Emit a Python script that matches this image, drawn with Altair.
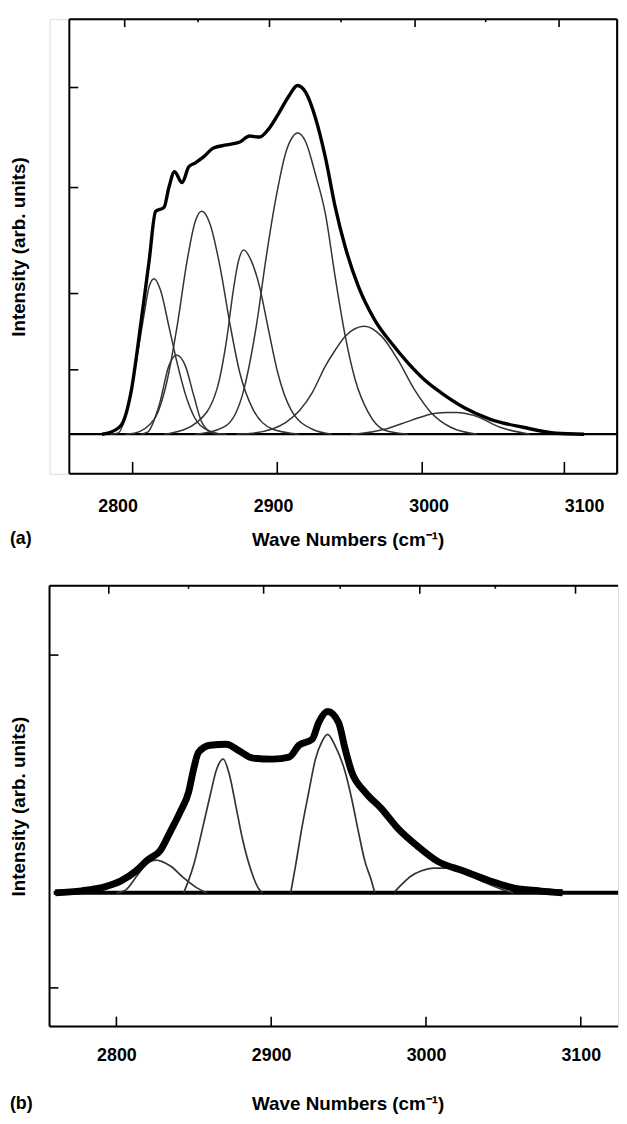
import altair as alt
import pandas as pd

FONT = "Liberation Sans"

# ---------------- panel (a) values ----------------
a_env_x = [2790.0, 2793.8, 2802.3, 2808.6, 2815.0, 2820.3, 2824.5, 2829.9, 2833.0, 2836.6,
           2841.5, 2845.8, 2850.0, 2855.3, 2861.7, 2870.1, 2878.6, 2884.9, 2891.3, 2897.6,
           2904.0, 2910.4, 2915.7, 2921.0, 2927.3, 2933.7, 2940.0, 2946.4, 2954.9, 2965.5,
           2976.1, 2986.7, 2997.3, 3007.9, 3022.7, 3039.7, 3060.8, 3082.0, 3100.0]
a_env_y = [0.0, 0.1, 0.9, 4.2, 11.2, 17.5, 22.5, 22.9, 24.9, 26.5,
           25.4, 27.0, 27.4, 28.0, 28.9, 29.2, 29.5, 30.1, 30.0, 30.9,
           32.5, 34.2, 35.2, 34.5, 31.9, 27.9, 22.9, 18.9, 14.9, 11.5,
           9.2, 7.2, 5.5, 4.2, 2.7, 1.5, 0.7, 0.1, 0.0]

a_c1_x = [2795.0, 2800.2, 2805.5, 2810.8, 2817.2, 2820.3, 2823.5, 2827.7, 2833.0, 2838.3, 2844.7, 2853.1, 2865.9]
a_c1_y = [0.0, 0.1, 2.0, 6.2, 12.2, 14.9, 15.7, 14.5, 10.9, 7.2, 3.5, 0.9, 0.0]

a_c2_x = [2815.0, 2819.3, 2826.7, 2833.0, 2837.9, 2843.6, 2849.0, 2854.2, 2861.7, 2870.0]
a_c2_y = [0.0, 0.2, 2.9, 6.9, 8.0, 6.9, 3.9, 1.2, 0.1, 0.0]

a_c3_x = [2805.0, 2810.8, 2823.5, 2832.0, 2838.3, 2844.7, 2850.0, 2854.2, 2859.5, 2865.9,
          2872.2, 2878.6, 2887.1, 2899.8, 2916.7]
a_c3_y = [0.0, 0.1, 1.5, 5.5, 10.9, 17.5, 21.5, 22.5, 21.2, 16.9,
          11.2, 6.2, 2.5, 0.5, 0.0]

a_c4_x = [2830.0, 2834.1, 2851.0, 2863.8, 2870.1, 2874.4, 2877.6, 2881.1, 2886.0, 2891.3,
          2896.6, 2903.0, 2911.4, 2925.2, 2937.9]
a_c4_y = [0.0, 0.1, 1.2, 4.5, 9.5, 14.5, 17.4, 18.6, 17.5, 14.9,
          10.9, 6.2, 2.5, 0.5, 0.0]

a_c5_x = [2850.0, 2855.3, 2870.1, 2880.7, 2889.2, 2895.6, 2901.9, 2908.3, 2912.5, 2915.7,
          2921.0, 2927.3, 2933.7, 2940.0, 2946.4, 2952.8, 2961.2, 2971.8, 2986.7]
a_c5_y = [0.0, 0.1, 0.9, 4.2, 10.9, 17.9, 23.9, 28.5, 30.0, 30.4,
          29.5, 26.2, 22.2, 15.8, 9.9, 5.5, 2.2, 0.4, 0.0]

a_c6_x = [2876.5, 2887.1, 2908.3, 2925.2, 2933.7, 2940.0, 2946.4, 2958.7, 2969.7, 2980.3,
          2990.9, 3001.5, 3014.2, 3031.1]
a_c6_y = [0.0, 0.1, 1.2, 4.2, 6.9, 8.5, 9.9, 10.9, 9.9, 7.5,
          4.5, 2.2, 0.7, 0.0]

a_c7_x = [2950.0, 2954.9, 2971.8, 2988.8, 3003.6, 3012.1, 3018.4, 3029.0, 3046.0, 3065.1]
a_c7_y = [0.0, 0.05, 0.5, 1.4, 2.1, 2.2, 2.2, 1.9, 0.7, 0.0]

a_x_domain = [2769.0, 3121.2]
a_y_domain = [-4.0, 41.9]
a_bottom_ticks = [2809.7, 2902.7, 2995.9, 3087.3]
a_top_ticks = [2804.6, 2897.7, 2991.3, 3083.9]
a_top_minor = [2851.7, 2943.7, 3036.7]
a_left_ticks = [35.0, 24.9, 14.2, 6.5]

# ---------------- panel (b) values ----------------
b_env_x = [2760.5, 2777.5, 2792.4, 2803.0, 2812.6, 2820.0, 2828.5, 2834.9, 2841.3, 2846.7,
           2849.9, 2853.1, 2860.5, 2871.1, 2879.6, 2888.2, 2901.0, 2911.6, 2918.0, 2926.5,
           2930.7, 2936.5, 2943.5, 2947.8, 2952.0, 2960.5, 2971.2, 2981.8, 2994.6, 3007.3,
           3024.4, 3041.4, 3056.3, 3073.4, 3088.3]
b_env_y = [0.0, 0.2, 0.6, 1.2, 2.2, 3.3, 4.3, 6.2, 8.2, 10.2,
           12.5, 14.2, 14.9, 15.0, 14.3, 13.6, 13.5, 13.7, 14.9, 15.5,
           17.2, 18.3, 17.2, 14.5, 12.2, 10.2, 8.5, 6.5, 4.7, 3.2,
           2.2, 1.2, 0.5, 0.2, 0.0]

b_c1_x = [2800.0, 2805.2, 2813.7, 2820.0, 2825.4, 2834.9, 2843.5, 2852.0, 2858.4]
b_c1_y = [0.0, 0.2, 1.8, 3.0, 3.3, 2.7, 1.5, 0.5, 0.0]

b_c2_x = [2843.5, 2849.9, 2855.2, 2860.5, 2864.8, 2869.0, 2873.2, 2877.5, 2881.8, 2887.1, 2892.4, 2894.6]
b_c2_y = [0.0, 2.8, 6.2, 9.8, 12.5, 13.5, 11.8, 8.5, 5.2, 2.2, 0.3, 0.0]

b_c3_x = [2912.6, 2915.8, 2920.1, 2924.3, 2928.6, 2932.9, 2936.4, 2941.4, 2947.8, 2952.0,
          2956.3, 2960.5, 2964.8, 2966.9]
b_c3_y = [0.0, 2.8, 6.8, 10.2, 13.5, 15.3, 16.0, 14.8, 12.2, 9.5,
          6.2, 3.2, 1.2, 0.0]

b_c4_x = [2979.7, 2984.0, 2990.4, 2996.7, 3005.2, 3013.7, 3024.4, 3037.2, 3049.9, 3056.3]
b_c4_y = [0.1, 0.8, 1.7, 2.2, 2.5, 2.5, 2.0, 1.1, 0.3, 0.0]

b_x_domain = [2756.8, 3124.1]
b_y_domain = [-13.5, 31.0]
b_bottom_ticks = [2800, 2900, 3000, 3100]
b_top_ticks = [2795.1, 2895.1, 2996.0, 3096.6]
b_top_minor = [2846.6, 2944.6, 3044.8]
b_left_ticks = [24.0, -9.6]

x_labels = [2800, 2900, 3000, 3100]
x_title = "Wave Numbers (cm⁻¹)"
y_title = "Intensity (arb. units)"

PANEL_W = 574


def long_table(curves):
    rows = []
    for name, (xs, ys) in curves.items():
        for xv, yv in zip(xs, ys):
            rows.append({"curve": name, "x": xv, "y": yv})
    return pd.DataFrame(rows)


def build_panel(env, comps, xdom, xrange_px, ydom, W, H, env_w, comp_w, base_w, base_from,
                bot_ticks, top_ticks, top_minor, left_ticks, left_px, frame_sides,
                label_pad, title_pad, tag, tag_dy, bot_len):
    xs = alt.Scale(domain=xdom, range=xrange_px, nice=False, zero=False)
    ys = alt.Scale(domain=ydom, nice=False, zero=False)
    xaxis = alt.Axis(values=x_labels, format="d", ticks=False, domain=False, grid=False,
                     labelFont=FONT, labelFontSize=18, labelFontWeight="bold", labelColor="black",
                     labelPadding=label_pad, labelFlush=False,
                     title=x_title, titleFont=FONT, titleFontSize=19, titleFontWeight="bold",
                     titleColor="black", titlePadding=title_pad, titleX=301)
    yaxis = alt.Axis(labels=False, ticks=False, domain=False, grid=False, minExtent=0,
                     title=y_title, titleFont=FONT, titleFontSize=19, titleFontWeight="bold",
                     titleColor="black", titlePadding=21)

    def X():
        return alt.X("x:Q", scale=xs, axis=xaxis)

    def Y():
        return alt.Y("y:Q", scale=ys, axis=yaxis)

    env_df = pd.DataFrame({"x": env[0], "y": env[1]})
    comp_df = long_table(comps)
    base_df = pd.DataFrame({"x": [base_from, xdom[1]], "y": [0.0, 0.0]})

    x0, x1 = xdom
    y0, y1 = ydom
    seg = {
        "left": (x0, x0, y0, y1),
        "right": (x1, x1, y0, y1),
        "top": (x0, x1, y1, y1),
        "bottom": (x0, x1, y0, y0),
    }
    frame_df = pd.DataFrame([
        {"x": seg[s][0], "x2": seg[s][1], "y": seg[s][2], "y2": seg[s][3]} for s in frame_sides
    ])

    frame = alt.Chart(frame_df).mark_rule(color="black", strokeWidth=2).encode(
        x=X(), x2="x2:Q", y=Y(), y2="y2:Q")
    base = alt.Chart(base_df).mark_line(color="black", strokeWidth=base_w).encode(x=X(), y=Y())
    comp = alt.Chart(comp_df).mark_line(color="#333333", strokeWidth=comp_w,
                                        interpolate="monotone").encode(
        x=X(), y=Y(), detail="curve:N")
    envl = alt.Chart(env_df).mark_line(color="black", strokeWidth=env_w,
                                       interpolate="monotone").encode(x=X(), y=Y())

    bt = alt.Chart(pd.DataFrame({"x": bot_ticks})).mark_rule(color="black", strokeWidth=1.6).encode(
        x=X(), y=alt.value(H), y2=alt.value(H - bot_len))
    tt = alt.Chart(pd.DataFrame({"x": top_ticks})).mark_rule(color="black", strokeWidth=1.6).encode(
        x=X(), y=alt.value(0), y2=alt.value(8))
    tm = alt.Chart(pd.DataFrame({"x": top_minor})).mark_rule(color="black", strokeWidth=1.6).encode(
        x=X(), y=alt.value(0), y2=alt.value(3))
    lt = alt.Chart(pd.DataFrame({"y": left_ticks})).mark_rule(color="black", strokeWidth=1.6).encode(
        y=Y(), x=alt.value(left_px), x2=alt.value(left_px + 9))

    return alt.layer(frame, base, comp, envl, bt, tt, tm, lt).properties(
        width=W, height=H,
        title=alt.Title(tag, orient="bottom", anchor="start", frame="bounds", offset=0,
                        dy=tag_dy, font=FONT, fontSize=18, fontWeight="bold", color="black"),
    )


panel_a = build_panel(
    (a_env_x, a_env_y),
    {"c1": (a_c1_x, a_c1_y), "c2": (a_c2_x, a_c2_y), "c3": (a_c3_x, a_c3_y),
     "c4": (a_c4_x, a_c4_y), "c5": (a_c5_x, a_c5_y), "c6": (a_c6_x, a_c6_y),
     "c7": (a_c7_x, a_c7_y)},
    a_x_domain, [20, 573], a_y_domain, PANEL_W, 459,
    3.4, 1.5, 2.2, a_x_domain[0],
    a_bottom_ticks, a_top_ticks, a_top_minor, a_left_ticks, 20,
    ["left", "right", "top", "bottom"],
    24, 15, "(a)", -19, 12,
)

panel_b = build_panel(
    (b_env_x, b_env_y),
    {"c1": (b_c1_x, b_c1_y), "c2": (b_c2_x, b_c2_y), "c3": (b_c3_x, b_c3_y),
     "c4": (b_c4_x, b_c4_y)},
    b_x_domain, [0, PANEL_W], b_y_domain, PANEL_W, 445,
    7.0, 1.7, 4.0, 2759.5,
    b_bottom_ticks, b_top_ticks, b_top_minor, b_left_ticks, 0,
    ["left", "top", "bottom"],
    20, 31, "(b)", -19, 10,
)

chart = alt.vconcat(panel_a, panel_b, spacing=113, bounds="flush").properties(
    padding={"left": 9, "top": 12, "right": 0, "bottom": 0}
).configure_view(stroke="transparent").configure(background="white")

chart.save("out.html", embed_options={"renderer": "svg", "actions": False})
